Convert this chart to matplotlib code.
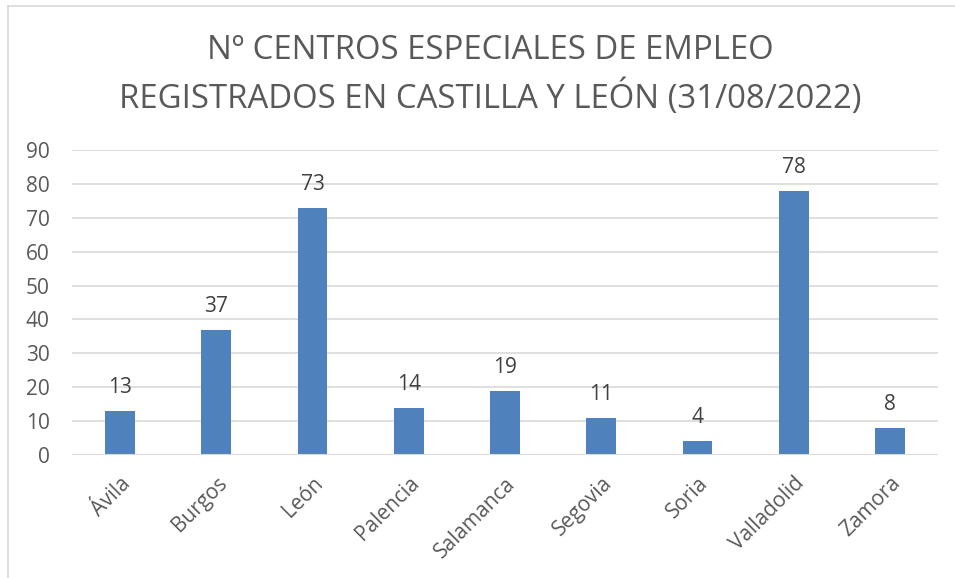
import matplotlib.pyplot as plt
from matplotlib.lines import Line2D

# data
provincias = ['Ávila', 'Burgos', 'León', 'Palencia', 'Salamanca', 'Segovia',
              'Soria', 'Valladolid', 'Zamora']
centros = [13, 37, 73, 14, 19, 11, 4, 78, 8]
titulo = 'Nº CENTROS ESPECIALES DE EMPLEO\nREGISTRADOS EN CASTILLA Y LEÓN (31/08/2022)'

plt.rcParams['font.family'] = ['Open Sans', 'DejaVu Sans']
W, H = 955, 578
fig = plt.figure(figsize=(W / 100, H / 100), dpi=100)

# plot area in pixels: x 72..938, y 150..455
ax = fig.add_axes([72 / W, 1 - 455 / H, (938 - 72) / W, (455 - 150) / H])

x = range(len(provincias))
ax.bar(x, centros, width=0.31, color='#4F81BD', zorder=3)
for i, v in enumerate(centros):
    ax.annotate(str(v), (i, v), xytext=(0, 13), textcoords='offset points',
                ha='center', va='baseline', fontsize=15, color='#404040')

ax.set_xlim(-0.5, len(provincias) - 0.5)
ax.set_ylim(0, 90)
ax.set_yticks(range(0, 91, 10))
ax.yaxis.grid(True, color='#D9D9D9', linewidth=1.2, zorder=0)
for s in ax.spines.values():
    s.set_visible(False)
ax.axhline(0, color='#D9D9D9', linewidth=1.5, zorder=4)
ax.tick_params(axis='both', length=0, labelsize=15, labelcolor='#595959')
ax.tick_params(axis='y', pad=16)
ax.set_xticks(list(x))
ax.set_xticklabels(provincias, rotation=45, ha='right', rotation_mode='anchor')
ax.tick_params(axis='x', pad=13)

fig.text(490 / W, 1 - 75 / H, titulo, ha='center', va='center', fontsize=23.7,
         color='#595959', linespacing=1.42)

# chart border
fig.add_artist(Line2D([8 / W, 8 / W], [0, 1 - 6 / H], color='#D9D9D9', linewidth=1.2))
fig.add_artist(Line2D([8 / W, 1], [1 - 6 / H, 1 - 6 / H], color='#D9D9D9', linewidth=1.2))

fig.savefig('out.png', dpi=100)
